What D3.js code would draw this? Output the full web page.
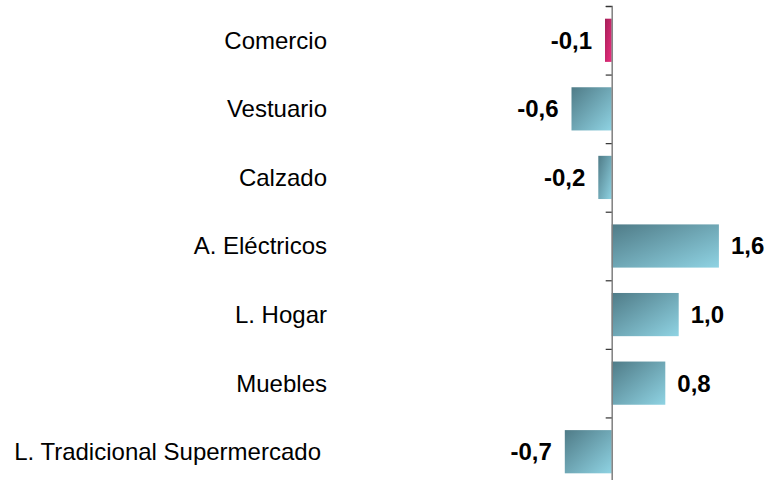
<!DOCTYPE html>
<html>
<head>
<meta charset="utf-8">
<script src="https://cdn.jsdelivr.net/npm/d3@7"></script>
<style>
  body { margin:0; background:#fff; }
  text { font-family: "Liberation Sans", Arial, sans-serif; }
</style>
</head>
<body>
<svg id="chart" width="765" height="480"></svg>
<script>
// rubros y variación
const categories=["Comercio","Vestuario","Calzado","A. Eléctricos","L. Hogar","Muebles","L. Tradicional Supermercado"];
const values=[-0.1,-0.6,-0.2,1.6,1.0,0.8,-0.7];
const highlight=["Comercio"];

const width=765, height=480;
const axisX=611.7;
const pxPerUnit=67;

const svg=d3.select("#chart");

// gradientes diagonales como en excel
const defs=svg.append("defs");
function grad(id, dark, light) {
    const g=defs.append("linearGradient").attr("id",id)
        .attr("x1",0).attr("y1",0).attr("x2",1).attr("y2",1);
    g.append("stop").attr("offset","0%").attr("stop-color",dark);
    g.append("stop").attr("offset","100%").attr("stop-color",light);
}
grad("gTeal","#4f7b87","#8fd3e3");
grad("gPink","#a31f57","#ee2e80");

const x=d3.scaleLinear()
    .domain([-1.5,2])
    .range([axisX-1.5*pxPerUnit, axisX+2*pxPerUnit]);

const y=d3.scaleBand()
    .domain(categories)
    .range([6,486])
    .paddingInner(0.37)
    .paddingOuter(0.185);

// marcas del eje entre categorias
const yTicks=d3.scaleLinear().domain([0,categories.length]).range([6,486]);

const data=categories.map((c,i)=>({ cat:c, val:values[i] }));

svg.append("g").selectAll("rect")
    .data(data)
    .join("rect")
    .attr("x",d=>x(Math.min(0,d.val)))
    .attr("y",d=>y(d.cat))
    .attr("width",d=>Math.abs(x(d.val)-x(0)))
    .attr("height",y.bandwidth())
    .attr("fill",d=>highlight.includes(d.cat) ? "url(#gPink)" : "url(#gTeal)");

const axisG=svg.append("g").attr("transform",`translate(${x(0)},0)`)
    .call(d3.axisLeft(yTicks).tickValues(d3.range(categories.length+1)).tickSize(6).tickFormat(""));
axisG.select(".domain").attr("stroke","#7f7f7f").attr("stroke-width",1.5);
axisG.selectAll(".tick line").attr("stroke","#333").attr("stroke-width",1.2);

// nombres de categoria
svg.append("g").selectAll("text")
    .data(data)
    .join("text")
    .attr("x",(d,i)=>i===categories.length-1 ? 321 : 327)
    .attr("y",d=>y(d.cat)+y.bandwidth()/2)
    .attr("dy","0.35em")
    .attr("text-anchor","end")
    .attr("font-size",24)
    .attr("fill","#000")
    .text(d=>d.cat);

// valores
const fmt=v=>v.toFixed(1).replace(".",",");
svg.append("g").selectAll("text")
    .data(data)
    .join("text")
    .attr("x",d=>d.val<0 ? x(d.val)-13 : x(d.val)+12)
    .attr("y",d=>y(d.cat)+y.bandwidth()/2)
    .attr("dy","0.35em")
    .attr("text-anchor",d=>d.val<0 ? "end" : "start")
    .attr("font-size",24)
    .attr("font-weight","bold")
    .attr("fill","#000")
    .text(d=>fmt(d.val));
</script>
</body>
</html>
